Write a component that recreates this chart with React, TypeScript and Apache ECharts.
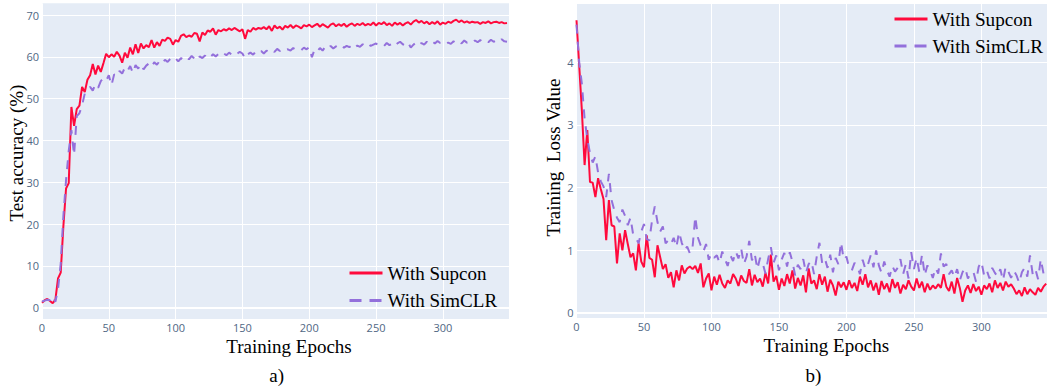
import React, { useEffect, useRef } from "react";
import * as echarts from "echarts";

// epochs are sampled every 2 epochs: 0, 2, 4, ..., 348
const EPOCH_STEP = 2;

const supconAcc = [
  1.2, 1.8, 2.1, 1.6, 1.1, 1.9, 7.0, 8.4, 19.5, 28.5,
  29.8, 48.0, 43.5, 47.5, 48.3, 52.8, 51.6, 54.5, 55.6, 58.3,
  55.8, 57.9, 56.4, 58.5, 60.7, 59.9, 60.6, 60.0, 61.2, 60.3,
  58.6, 61.0, 59.8, 62.2, 60.6, 63.0, 60.9, 63.2, 62.0, 62.8,
  62.3, 64.0, 62.2, 63.5, 62.6, 64.1, 63.8, 64.6, 64.3, 62.9,
  64.0, 63.6, 65.0, 65.4, 64.7, 65.1, 64.8, 65.7, 65.5, 63.7,
  65.8, 65.2, 66.3, 66.0, 66.8, 65.3, 66.4, 66.1, 66.6, 66.3,
  66.8, 66.4, 66.9, 66.5, 66.1, 66.6, 64.3, 66.4, 66.0, 66.9,
  66.5, 66.9, 66.7, 67.1, 66.6, 67.3, 66.2, 67.5, 66.8, 67.2,
  66.5, 67.4, 67.0, 67.6, 66.9, 67.5, 67.2, 66.8, 67.6, 67.3,
  67.7, 67.1, 67.5, 67.9, 67.2, 67.8, 67.4, 67.0, 67.7, 68.0,
  67.3, 67.8, 67.4, 67.9, 67.2, 67.7, 68.0, 67.4, 67.9, 67.6,
  68.1, 67.5, 67.9, 67.6, 68.2, 67.5, 68.1, 67.8, 68.3, 67.6,
  68.0, 67.4, 68.2, 67.7, 68.1, 67.5, 68.0, 68.3, 67.7, 68.4,
  68.8, 68.2, 68.6, 68.0, 68.4, 67.8, 68.3, 67.9, 68.5, 67.7,
  68.2, 67.9, 68.4, 68.1, 68.6, 68.9, 68.3, 68.7, 68.2, 68.5,
  68.1, 68.4, 68.2, 68.3, 67.9, 68.3, 68.1, 68.5, 68.0, 68.3,
  68.4, 68.1, 68.3, 68.0, 68.1,
];

const simclrAcc = [
  1.5, 1.7, 1.9, 1.8, 2.8, 1.4, 4.5, 10.5, 22.0, 30.5,
  37.5, 42.5, 36.5, 45.8, 46.5, 48.4, 51.2, 52.0, 52.8, 51.9,
  53.5, 52.6, 54.2, 54.9, 54.3, 55.6, 53.2, 55.8, 55.3, 56.6,
  56.0, 57.4, 56.6, 57.8, 56.1, 58.0, 57.2, 58.3, 57.0, 57.9,
  58.4, 57.6, 58.7, 58.1, 59.0, 58.4, 59.3, 58.8, 59.5, 59.0,
  59.6, 58.9, 59.7, 59.3, 60.0, 59.4, 60.2, 59.6, 59.0, 60.1,
  59.7, 60.3, 59.5, 60.0, 60.6, 60.1, 60.7, 60.2, 60.8, 60.4,
  61.0, 60.5, 61.1, 60.7, 61.2, 60.8, 59.6, 60.6, 61.0, 60.5,
  61.3, 60.9, 61.4, 60.8, 61.5, 61.0, 61.6, 61.2, 61.9, 61.4,
  62.0, 61.6, 61.8, 61.5, 62.1, 61.7, 62.0, 61.6, 62.2, 61.8,
  62.3, 59.9, 61.8, 61.3, 62.1, 61.5, 62.4, 61.9, 62.6, 62.0,
  62.5, 62.1, 62.7, 62.2, 62.6, 62.3, 62.8, 62.1, 62.7, 62.4,
  63.0, 62.5, 63.1, 62.6, 62.9, 63.2, 62.7, 63.0, 62.6, 63.3,
  62.8, 63.1, 62.5, 63.2, 63.6, 63.0, 62.7, 63.4, 62.2, 62.9,
  63.5, 62.8, 63.3, 62.9, 63.6, 63.1, 63.7, 63.2, 63.8, 63.3,
  63.5, 63.0, 63.4, 63.1, 63.7, 63.3, 63.8, 63.2, 63.9, 63.4,
  63.7, 63.3, 63.9, 63.5, 64.0, 63.4, 63.8, 63.5, 64.1, 63.6,
  63.9, 63.5, 64.2, 63.7, 63.6,
];

const supconLoss = [
  4.67, 3.95, 3.22, 2.36, 2.92, 2.09, 2.08, 1.85, 2.15, 1.98,
  1.82, 1.16, 1.8, 1.4, 1.38, 0.79, 1.27, 1.0, 1.32, 1.1,
  0.89, 0.95, 0.68, 1.11, 0.82, 0.73, 1.24, 0.88, 0.85, 0.57,
  1.08, 0.89, 0.7, 0.78, 0.56, 0.65, 0.41, 0.68, 0.52, 0.76,
  0.63, 0.71, 0.74, 0.7, 0.75, 0.64, 0.79, 0.41, 0.55, 0.63,
  0.36, 0.58, 0.45, 0.61, 0.47, 0.4, 0.52, 0.47, 0.62, 0.55,
  0.43, 0.6, 0.51, 0.48, 0.7, 0.44, 0.61, 0.49, 0.55, 0.42,
  0.64, 0.47, 0.93, 0.5, 0.59, 0.37, 0.55, 0.43, 0.62, 0.47,
  0.68, 0.39, 0.56, 0.44, 0.6, 0.33, 0.71, 0.47, 0.52, 0.38,
  0.62, 0.45, 0.58, 0.34, 0.53, 0.44, 0.28, 0.5, 0.41, 0.49,
  0.37, 0.52, 0.4, 0.48, 0.35, 0.58, 0.45, 0.62, 0.41, 0.52,
  0.36, 0.48, 0.29, 0.51, 0.38, 0.47, 0.33, 0.54, 0.4, 0.49,
  0.31, 0.45, 0.38, 0.52, 0.42, 0.36, 0.55, 0.4, 0.5, 0.33,
  0.47, 0.37, 0.44, 0.39, 0.46, 0.4, 0.62, 0.42, 0.35, 0.5,
  0.31, 0.56, 0.4, 0.18, 0.36, 0.44, 0.32, 0.46, 0.35, 0.42,
  0.29, 0.44, 0.38, 0.47, 0.33, 0.52, 0.4, 0.48, 0.36, 0.5,
  0.42, 0.46, 0.39, 0.3, 0.36, 0.27, 0.41, 0.3, 0.38, 0.33,
  0.29, 0.4, 0.34, 0.42, 0.47,
];

const simclrLoss = [
  4.6, 4.0, 3.65, 3.1, 2.78, 2.55, 2.4, 2.5, 2.24, 2.1,
  2.02, 1.85, 2.22, 1.8, 1.64, 1.52, 1.45, 1.65, 1.55, 1.4,
  1.52, 1.25, 1.2, 1.11, 1.3, 1.42, 1.18, 1.16, 1.48, 1.7,
  1.45, 1.3, 1.38, 1.11, 1.16, 1.1, 1.2, 1.05, 1.29, 1.12,
  1.0, 1.06, 0.95, 1.05, 1.54, 1.2, 1.08, 0.98, 1.1, 0.85,
  0.95, 0.88, 0.92, 0.8, 0.98, 0.86, 0.75, 0.92, 0.83, 0.98,
  0.87, 1.03, 0.78, 0.9, 1.15, 0.84, 0.95, 0.7, 0.88, 0.79,
  0.63, 0.86, 1.05, 0.8, 0.92, 0.68, 0.85, 0.96, 0.74, 0.97,
  0.82, 0.6, 0.77, 0.7, 0.86, 0.64, 0.78, 0.83, 0.62, 0.9,
  1.12, 0.8, 0.87, 0.72, 0.93, 0.65, 0.88, 0.78, 1.13, 0.85,
  0.9, 0.72, 0.68, 0.8, 0.75, 0.62, 0.85, 0.7, 0.78, 0.92,
  0.73, 1.0, 0.76, 0.64, 0.82, 0.68, 0.58, 0.75, 0.66, 0.72,
  0.86, 0.62, 0.78, 0.55, 0.97, 0.7, 0.88, 0.65, 0.93, 0.6,
  0.76, 0.68, 0.56, 0.72, 0.63, 0.95, 0.74, 0.78, 0.62, 0.68,
  0.57, 0.7, 0.52, 0.65, 0.72, 0.55, 0.63, 0.66, 0.5, 0.74,
  0.82, 0.6, 0.68, 0.55, 0.72, 0.64, 0.58, 0.7, 0.52, 0.74,
  0.66, 0.56, 0.68, 0.6, 0.48, 0.65, 0.72, 0.58, 0.92, 0.62,
  0.7, 0.54, 0.86, 0.63, 0.55,
];

const seriesNames = ["With Supcon", "With SimCLR"];
const accTicks = [0, 10, 20, 30, 40, 50, 60, 70];
const lossTicks = [0, 1, 2, 3, 4];
const epochTicks = [0, 50, 100, 150, 200, 250, 300];

const toPoints = (vals: number[]) => vals.map((v, i) => [i * EPOCH_STEP, v]);

const RED = "#ff0a3c";
const PURPLE = "#9370db";
const BG = "#e5ecf6";
const SERIF = "'Liberation Serif', 'Times New Roman', serif";
const tickFont = {
  fontFamily: "'Open Sans', sans-serif",
  fontSize: 11,
  color: "#506784",
};

export default function App() {
  const ref = useRef<HTMLDivElement>(null);

  useEffect(() => {
    document.body.style.margin = "0";
    if (!ref.current) return;
    const chart = echarts.init(ref.current, undefined, { renderer: "svg" });

    const xAxisBase = (gridIndex: number, max: number) => ({
      gridIndex,
      type: "value",
      min: 0,
      max,
      axisLine: { show: false },
      axisTick: { show: false, customValues: epochTicks },
      axisLabel: { ...tickFont, margin: 3, customValues: epochTicks },
      splitLine: { show: true, lineStyle: { color: "#ffffff", width: 1 } },
    });
    const yAxisBase = (gridIndex: number, min: number, max: number, ticks: number[]) => ({
      gridIndex,
      type: "value",
      min,
      max,
      axisLine: { show: false },
      axisTick: { show: false, customValues: ticks },
      axisLabel: { ...tickFont, margin: 3, customValues: ticks },
      splitLine: { show: true, lineStyle: { color: "#ffffff", width: 1 } },
    });

    const zeroLine = {
      silent: true,
      symbol: "none",
      label: { show: false },
      emphasis: { disabled: true },
      lineStyle: { color: "#ffffff", width: 2, type: "solid" },
      data: [{ yAxis: 0 }],
    };

    const lineSeries = (
      name: string,
      data: number[],
      idx: number,
      color: string,
      dashed: boolean,
      withZero: boolean
    ) => ({
      name,
      type: "line",
      xAxisIndex: idx,
      yAxisIndex: idx,
      data: toPoints(data),
      symbol: "none",
      showSymbol: false,
      smooth: false,
      color,
      lineStyle: { color, width: 2, type: dashed ? [9, 8] : "solid" },
      emphasis: { disabled: true },
      z: dashed ? 3 : 2,
      ...(withZero ? { markLine: zeroLine } : {}),
    });

    const legendBase = (left: number, top: number, gap: number, fontSize: number) => ({
      orient: "vertical",
      left,
      top,
      padding: 0,
      itemWidth: 33,
      itemHeight: 14,
      itemGap: gap,
      selectedMode: false,
      lineStyle: { width: 3 },
      itemStyle: { opacity: 0, color: "rgba(0,0,0,0)", borderWidth: 0 },
      textStyle: { fontFamily: SERIF, fontSize, color: "#000", lineHeight: 19 },
      data: [
        { name: seriesNames[0], lineStyle: { width: 3, type: "solid" } },
        { name: seriesNames[1], lineStyle: { width: 3, type: [12, 8] } },
      ],
    });

    const text = (
      t: string,
      x: number,
      y: number,
      rotation = 0
    ) => ({
      type: "text",
      x,
      y,
      rotation,
      style: {
        text: t,
        fontFamily: SERIF,
        fontSize: 19,
        fill: "#000",
        align: "center",
        verticalAlign: "middle",
      },
    });

    chart.setOption({
      animation: false,
      grid: [
        { left: 42, top: 3.3, width: 467, height: 315.7, show: true, backgroundColor: BG, borderWidth: 0 },
        { left: 576.5, top: 4, width: 472, height: 314, show: true, backgroundColor: BG, borderWidth: 0 },
      ],
      xAxis: [xAxisBase(0, 349.5), xAxisBase(1, 348.6)],
      yAxis: [yAxisBase(0, -2.7, 72.8, accTicks), yAxisBase(1, -0.08, 4.93, lossTicks)],
      legend: [legendBase(348, 263.5, 8.5, 19), legendBase(893, 9.5, 8, 19.2)],
      series: [
        lineSeries(seriesNames[0], supconAcc, 0, RED, false, true),
        lineSeries(seriesNames[1], simclrAcc, 0, PURPLE, true, false),
        lineSeries(seriesNames[0], supconLoss, 1, RED, false, true),
        lineSeries(seriesNames[1], simclrLoss, 1, PURPLE, true, false),
      ],
      graphic: [
        text("Training Epochs", 289, 346.7),
        text("a)", 276.7, 375.7),
        text("Training Epochs", 826.3, 345),
        text("b)", 813.3, 375),
        text("Test accuracy (%)", 16.7, 153, Math.PI / 2),
        text("Training  Loss Value", 553.3, 157.5, Math.PI / 2),
      ],
    });

    return () => chart.dispose();
  }, []);

  return <div ref={ref} style={{ width: 1047, height: 391 }} />;
}
